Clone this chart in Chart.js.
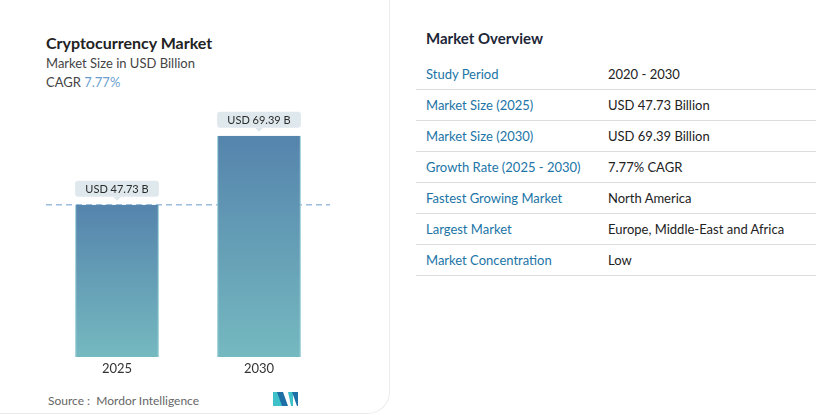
<!DOCTYPE html>
<html>
<head>
<meta charset="utf-8">
<script src="https://cdn.jsdelivr.net/npm/chart.js@4.4.1/dist/chart.umd.min.js"></script>
<style>
  html, body { margin: 0; padding: 0; background: #fff; font-family: Lato, "Open Sans", sans-serif; }
  body { width: 824px; height: 415px; position: relative; overflow: hidden; }
  .card { position: absolute; left: 0; top: 0; width: 389px; height: 413px;
          border-right: 1px solid #ececec; border-bottom: 1px solid #ececec;
          border-bottom-right-radius: 22px; background: #fff; }
  .titulo { position: absolute; left: 46px; top: 33px; font-size: 16px; font-weight: bold; color: #222; }
  .sub { position: absolute; left: 46px; top: 55px; font-size: 13px; color: #444; }
  .cagr { position: absolute; left: 46px; top: 74px; font-size: 13px; color: #444; }
  .cagr span { color: #6b9fd0; }
  #barras { position: absolute; left: 0; top: 0; }
  .fuente { position: absolute; left: 48px; top: 393px; font-size: 12px; color: #666; }
  .logo { position: absolute; left: 273px; top: 392px; }
  .panel { position: absolute; left: 416px; top: 0; width: 400px; }
  .panel h2 { position: absolute; left: 10px; top: 29px; margin: 0; font-size: 15px; font-weight: bold; color: #1d2738; }
  table { position: absolute; left: 0; top: 59px; width: 400px; border-collapse: collapse; font-size: 13px; }
  td { height: 30px; padding: 0 0 0 10px; border-bottom: 1px solid #dcdcdc; }
  td.lab { color: #2174a6; width: 172px; }
  td.val { color: #222; }
</style>
</head>
<body>
<div class="card">
  <div class="titulo">Cryptocurrency Market</div>
  <div class="sub">Market Size in USD Billion</div>
  <div class="cagr">CAGR <span>7.77%</span></div>
  <canvas id="barras" width="390" height="390"></canvas>
  <div class="fuente">Source :&nbsp; Mordor Intelligence</div>
  <svg class="logo" width="26" height="14" viewBox="0 0 26 14">
    <polygon points="0,0 5,0 10,14 0,14" fill="#3fc1c9"/>
    <polygon points="4,0 10,0 15,14 9,14" fill="#1e6fa6"/>
    <polygon points="15,0 20,0 20,14 18,14" fill="#3fc1c9"/>
    <polygon points="19,0 25,0 25,14 24,14" fill="#1e6fa6"/>
  </svg>
</div>

<div class="panel">
  <h2>Market Overview</h2>
  <table id="tabla"></table>
</div>

<script>
// datos del gráfico
var anios = ["2025", "2030"];
var valores = [47.73, 69.39];
var etiquetas = ["USD 47.73 B", "USD 69.39 B"];

// datos de la tabla
var filasTitulo = ["Study Period", "Market Size (2025)", "Market Size (2030)", "Growth Rate (2025 - 2030)",
    "Fastest Growing Market", "Largest Market", "Market Concentration"];
var filasValor = ["2020 - 2030", "USD 47.73 Billion", "USD 69.39 Billion", "7.77% CAGR",
    "North America", "Europe, Middle-East and Africa", "Low"];

function cargaTabla() {
    var html = "";
    for (var i = 0; i < filasTitulo.length; i++) {
        html += "<tr><td class='lab'>" + filasTitulo[i] + "</td><td class='val'>" + filasValor[i] + "</td></tr>";
    }
    document.getElementById("tabla").innerHTML = html;
}

// línea discontinua a la altura del primer valor
var lineaBase = {
    id: "lineaBase",
    beforeDatasetsDraw: function (chart) {
        var ctx = chart.ctx, area = chart.chartArea;
        var y = chart.scales.y.getPixelForValue(valores[0]);
        ctx.save();
        ctx.strokeStyle = "#6a9bc9";
        ctx.lineWidth = 1;
        ctx.setLineDash([6, 4]);
        ctx.beginPath();
        ctx.moveTo(area.left, y);
        ctx.lineTo(area.right, y);
        ctx.stroke();
        ctx.restore();
    }
};

// etiquetas encima de cada barra
var globos = {
    id: "globos",
    afterDatasetsDraw: function (chart) {
        var ctx = chart.ctx;
        chart.getDatasetMeta(0).data.forEach(function (barra, i) {
            var w = barra.width, h = 16;
            var x0 = barra.x - w / 2, y1 = barra.y - 8, y0 = y1 - h;
            ctx.save();
            ctx.fillStyle = "#dfe8ec";
            ctx.beginPath();
            ctx.roundRect(x0, y0, w, h, 3);
            ctx.fill();
            ctx.beginPath();
            ctx.moveTo(barra.x - 4, y1);
            ctx.lineTo(barra.x, y1 + 4);
            ctx.lineTo(barra.x + 4, y1);
            ctx.fill();
            ctx.fillStyle = "#2b2b2b";
            ctx.font = "11px Lato, sans-serif";
            ctx.textAlign = "center";
            ctx.textBaseline = "middle";
            ctx.fillText(etiquetas[i], barra.x, y0 + h / 2 + 0.5);
            ctx.restore();
        });
    }
};

function degradado(context) {
    var chart = context.chart;
    if (!chart.chartArea) return "#6199b4";
    var y = chart.scales.y;
    var top = y.getPixelForValue(valores[context.dataIndex]);
    var base = y.getPixelForValue(0);
    var g = chart.ctx.createLinearGradient(0, top, 0, base);
    g.addColorStop(0, "#5584ac");
    g.addColorStop(1, "#75b9c0");
    return g;
}

function cargaGraficoBarras() {
    var config = {
        type: "bar",
        data: {
            labels: anios,
            datasets: [{
                data: valores,
                backgroundColor: degradado,
                borderColor: "#8fcbd4",
                borderWidth: { left: 1, right: 1, top: 0, bottom: 0 },
                categoryPercentage: 0.59,
                barPercentage: 1
            }]
        },
        options: {
            responsive: false,
            animation: false,
            layout: { padding: { left: 46, right: 60, top: 102, bottom: 13 } },
            plugins: { legend: { display: false }, tooltip: { enabled: false } },
            scales: {
                x: {
                    grid: { display: false, drawTicks: false },
                    border: { display: false },
                    ticks: { color: "#333", padding: 4, font: { family: "Lato", size: 13 } },
                    afterFit: function (s) { s.height = 20; }
                },
                y: { display: false, min: 0, max: 80 }
            }
        },
        plugins: [lineaBase, globos]
    };
    new Chart(document.getElementById("barras").getContext("2d"), config);
}

cargaTabla();
cargaGraficoBarras();
</script>
</body>
</html>
